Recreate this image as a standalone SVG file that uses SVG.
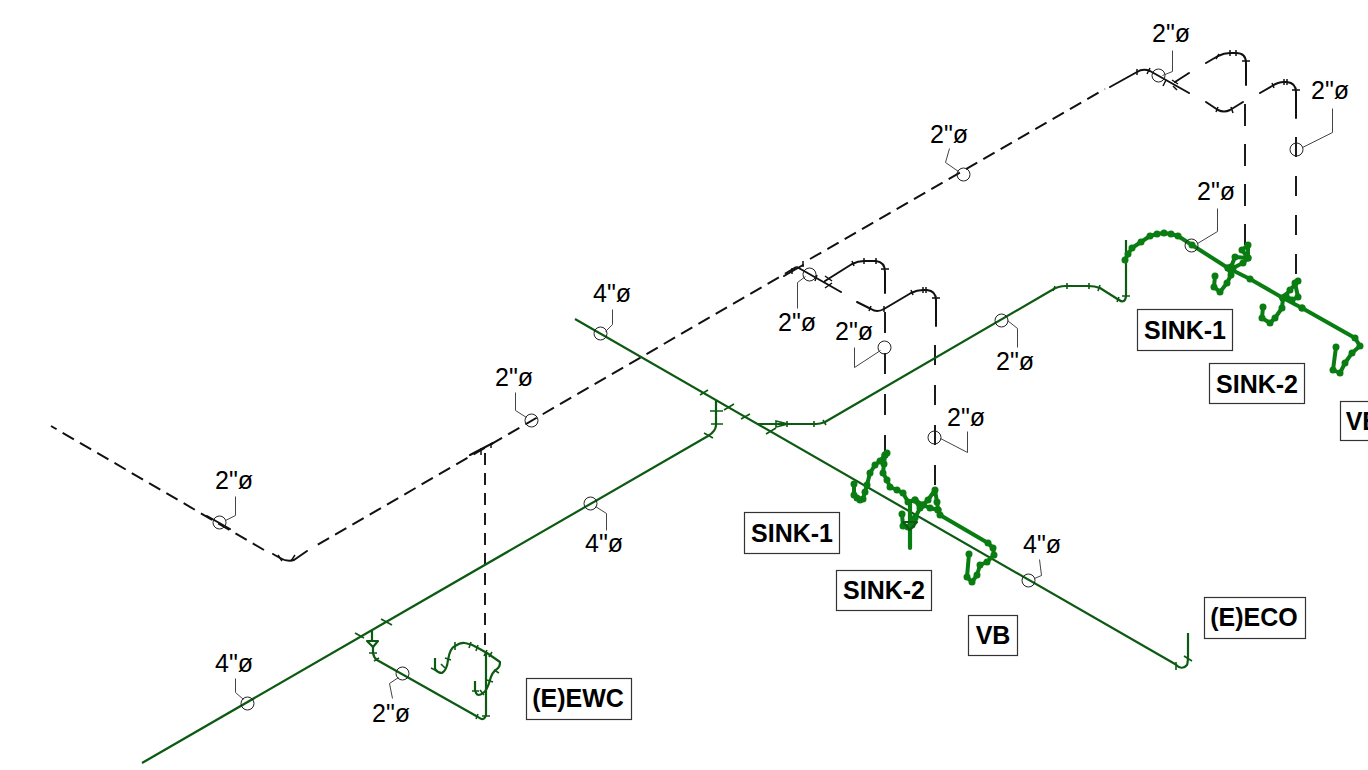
<svg xmlns="http://www.w3.org/2000/svg" width="1368" height="770" viewBox="0 0 1368 770">
<style>
.bg{fill:#fff}
.blk,.dash,.vd,.dk,.br,.tk,.tb,.ld,.bub{fill:none}
.blk{stroke:#111;stroke-width:2;stroke-linecap:round;stroke-linejoin:round}
.dash{stroke:#111;stroke-width:2;stroke-dasharray:13 7}
.vd{stroke:#111;stroke-width:1.9}
.dk{stroke:#0d5a12;stroke-width:2.2;stroke-linejoin:round}
.tk{stroke:#0d5a12;stroke-width:1.6}
.tb{stroke:#111;stroke-width:1.5}
.br{stroke:#0a7d12;stroke-width:4;stroke-linejoin:round;stroke-linecap:round;marker-start:url(#d);marker-mid:url(#d);marker-end:url(#d)}
.ewc{stroke:#0d5a12;stroke-width:2.2;fill:none;stroke-linejoin:round}
.ld{stroke:#444;stroke-width:1}
.bub{stroke:#222;stroke-width:1}
.t{font-family:"Liberation Sans",Arial,sans-serif;font-size:25px;fill:#000}
.b{font-family:"Liberation Sans",Arial,sans-serif;font-size:25px;font-weight:bold;fill:#000;text-anchor:middle}
.box{fill:#fff;stroke:#333;stroke-width:1.2}
</style>
<defs>
<marker id="d" markerUnits="userSpaceOnUse" markerWidth="8" markerHeight="8" refX="4" refY="4"><circle cx="4" cy="4" r="3.5" fill="#0a7d12"/></marker>
</defs>
<rect class="bg" width="1368" height="770"/>
<g id="connectors">
<g id="waste-dashed">
<path class="dash" d="M264 550L51 426"/>
<path class="blk" d="M207 516L230 529M273 554L280 558Q287 562 294 560L307 551"/>
<path class="dash" d="M317.800 544.700L800 265"/>
<path class="dash" d="M810 259L1105 89"/>
<path class="blk" d="M470 455L493 443M1110 87L1137 72Q1143 68 1150 71L1189 93M1175 82L1189 73"/>
<path class="blk" d="M1206 63L1218 56Q1224 53 1230 53L1236 53Q1246 53 1246 63V85M1206 102L1218 110Q1224 113 1230 110L1243 102M1260 93L1272 86Q1278 82 1284 82H1287Q1296 83 1296 92V118"/>
<path class="blk" d="M784 276L803 265M797 267L841 292M825 281L852 264Q858 261 864 261H876Q885 262 885 272V293M857 302L871 309Q877 313 884 309L911 293Q917 290 923 290H927Q936 291 936 300V326"/>
<path class="tb" d="M1137 69V75M1150 68L1147 74M1166 80L1163 86M1178 84L1172 80M1177 90L1173 86M1216 59L1219 54M1230 50V56M1236 50V56M1242 61H1250M1218 107L1216 112M1231 107L1233 113M1272 83L1274 88M1284 79V85M1287 79V85M1292 90H1300M792 268V274M803 261V267M817 275L815 281M825 276L832 281M825 288L832 283M852 261L854 266M864 258V264M876 258V264M881 269H889M871 306L869 311M884 306V312M911 290L913 295M923 287V293M926 287V293M932 298H940M481 448V455M491 443V448M278 555L282 561M295 555L291 561"/>
<path class="vd" d="M1245 104V245" stroke-dasharray="22 18"/>
<path class="vd" d="M1296 137V282" stroke-dasharray="20 19"/>
<path class="vd" d="M885 312V455" stroke-dasharray="21 20"/>
<path class="vd" d="M935 345V490" stroke-dasharray="20 20"/>
<path class="vd" d="M485 453V645" stroke-dasharray="12 8"/>
</g>
<g id="water-dark">
<path class="dk" d="M142 763L708 436Q716 431 716 425V400"/>
<path class="dk" d="M575 319L1175 664Q1182 671 1187 665Q1188 662 1188 655V633"/>
<path class="dk" d="M758 424H816Q820 424 825 422L1052 290Q1058 286 1066 286H1088Q1095 286 1100 288L1119 300Q1125 304 1126 296V240"/>
<path class="tk" fill="#fff" stroke-width="2" d="M776 421V427L788 424Z"/>
<path class="dk" d="M372 630V640M373 647V653Q374 658 377 660L478 717Q484 722 486 715V653"/>
<path class="dk" fill="none" d="M367 641H378L373 647Z"/>
<path class="tk" d="M700 395L708 390M724 410L734 404M741 419L750 414M766 434L776 428M710 411H723M711 424H723M704 433L713 438M787 421V427M814 421V427M823 420L826 425M1055 286L1053 291M1067 283V289M1089 283V289M1100 285L1098 291M1119 297L1117 302M1122 296H1130M1176 662V670M1184 656L1192 661M355 633L364 638M381 619L392 625M369 653H377M374 661L379 658M478 714L476 719M482 716H490"/>
</g>
<g id="fixture-ewc">
<path class="ewc" d="M435 658V669Q438 673 442 673Q447 670 448 660Q450 648 455 646Q461 642 465 643Q472 644 478 648L487 653L500 662Q500 667 497 669Q492 672 490 680Q487 691 483 693Q478 697 476 693L475 690V681"/>
<path class="tk" d="M431 668L437 671M445 668L441 664M445 658L451 660M455 642V650M471 642L469 648M478 645L476 651M487 650L484 656M489 657L492 652M494 670L499 673M487 680L493 682M480 690L484 695M472 691H479"/>
</g>
<g id="fixtures-green">
<polyline class="br" points="854,484 854,495 857,498 860,500 863,499 865,492 867,485 870,473 875,465 880,461 885,455 887,453"/>
<polyline class="br" points="885,455 884,464 883,473 887,480 890,487 897,490 903,493 908,502 915,500 920,508 915,518 912,525 908,527 903,526 902,514"/>
<polyline class="br" points="915,500 923,505 930,508 938,510 937,502 935,490 928,500 923,505"/>
<polyline class="br" points="938,510 940,515 988,543 993,548 994,555 987,562 980,565 977,575 972,582 967,577 969,554"/>
<path stroke="#0a7d12" stroke-width="4.2" stroke-linecap="round" fill="none" d="M910 503V548"/>
<path class="dk" d="M903 522H917L910 530Z"/>
<polyline class="br" points="1125,260 1128,254 1132,248 1141,242 1150,236 1157,234 1164,233 1171,234 1178,236 1192,245 1228,268 1250,279 1283,298 1302,308"/>
<polyline class="br" points="1302,308 1355,338 1360,346 1352,353 1345,363 1340,373 1333,370 1336,347"/>
<polyline class="br" points="1228,268 1231,275 1227,283 1220,292 1214,287 1215,276"/>
<polyline class="br" points="1231,267 1235,257 1248,258 1242,250 1248,245 1248,258 1243,263 1233,268"/>
<polyline class="br" points="1283,298 1282,308 1275,318 1270,323 1262,318 1263,307"/>
<polyline class="br" points="1283,298 1290,290 1298,281 1295,283 1298,297 1292,300 1286,296"/>
</g>
</g>
<g id="bubbles" transform="translate(.5 .5)">
<circle class="bub" cx="1158" cy="75" r="6.500"/><path class="ld" d="M1172 50V71L1162 75"/>
<circle class="bub" cx="1296" cy="149" r="6.500"/><path class="ld" d="M1332 108V132L1302 147"/>
<circle class="bub" cx="963" cy="174" r="6.500"/><path class="ld" d="M949 148L945 162L958 171"/>
<circle class="bub" cx="1191" cy="245" r="6.500"/><path class="ld" d="M1217 208V231L1197 243"/>
<circle class="bub" cx="809" cy="274" r="6.500"/><path class="ld" d="M797 308V282L805 276"/>
<circle class="bub" cx="884" cy="347" r="6.500"/><path class="ld" d="M854 347V367L880 350"/>
<circle class="bub" cx="1001" cy="320" r="6.500"/><path class="ld" d="M1017 347V328L1007 320"/>
<circle class="bub" cx="934" cy="437" r="6.500"/><path class="ld" d="M967 431V452L940 438"/>
<circle class="bub" cx="531" cy="420" r="6.500"/><path class="ld" d="M515 392V410L526 417"/>
<circle class="bub" cx="219" cy="522" r="6.500"/><path class="ld" d="M235 496V515L225 520"/>
<circle class="bub" cx="600" cy="333" r="6.500"/><path class="ld" d="M612 309V324L605 331"/>
<circle class="bub" cx="590" cy="503" r="6.500"/><path class="ld" d="M606 530V513L595 506"/>
<circle class="bub" cx="1028" cy="580" r="6.500"/><path class="ld" d="M1039 559L1041 575L1034 578"/>
<circle class="bub" cx="247" cy="703" r="6.500"/><path class="ld" d="M235 678V692L243 699"/>
<circle class="bub" cx="402" cy="673" r="6.500"/><path class="ld" d="M392 698L389 683L398 677"/>
</g>
<g id="size-labels">
<text class="t" x="1152" y="42">2"ø</text>
<text class="t" x="1311" y="99">2"ø</text>
<text class="t" x="930" y="143">2"ø</text>
<text class="t" x="1197" y="200">2"ø</text>
<text class="t" x="778" y="331">2"ø</text>
<text class="t" x="835" y="340">2"ø</text>
<text class="t" x="996" y="370">2"ø</text>
<text class="t" x="947" y="426">2"ø</text>
<text class="t" x="495" y="386">2"ø</text>
<text class="t" x="215" y="489">2"ø</text>
<text class="t" x="593" y="302">4"ø</text>
<text class="t" x="585" y="552">4"ø</text>
<text class="t" x="1023" y="553">4"ø</text>
<text class="t" x="215" y="672">4"ø</text>
<text class="t" x="372" y="722">2"ø</text>
</g>
<g id="sink-1-a"><rect class="box" x="1137.500" y="309.500" width="95" height="41"/><text class="b" x="1185" y="339">SINK-1</text></g>
<g id="sink-2-a"><rect class="box" x="1209.500" y="363.500" width="95" height="40"/><text class="b" x="1257" y="393">SINK-2</text></g>
<g id="vb-a"><rect class="box" x="1340.500" y="401.500" width="60" height="39"/><text class="b" x="1363" y="430">VB</text></g>
<g id="sink-1-b"><rect class="box" x="744.500" y="512.500" width="95" height="41"/><text class="b" x="792" y="542">SINK-1</text></g>
<g id="sink-2-b"><rect class="box" x="836.500" y="570.500" width="95" height="40"/><text class="b" x="884" y="599">SINK-2</text></g>
<g id="vb-b"><rect class="box" x="968.500" y="615.500" width="49" height="40"/><text class="b" x="993" y="644">VB</text></g>
<g id="eeco"><rect class="box" x="1204.500" y="597.500" width="101" height="41"/><text class="b" x="1254" y="626">(E)ECO</text></g>
<g id="eewc"><rect class="box" x="526.500" y="678.500" width="105" height="41"/><text class="b" x="578" y="707">(E)EWC</text></g>
</svg>
